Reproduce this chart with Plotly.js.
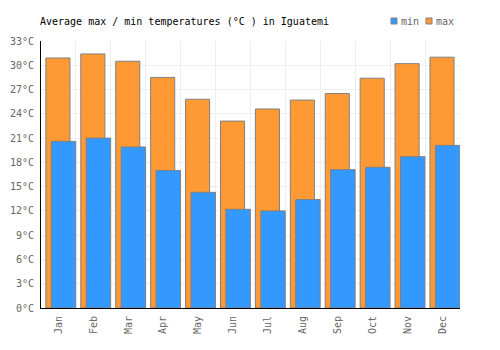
<!DOCTYPE html>
<html>
<head>
<meta charset="utf-8">
<script src="https://cdn.plot.ly/plotly-3.0.1.min.js"></script>
<style>html,body{margin:0;padding:0;background:#fff;}#chart{width:500px;height:350px;}</style>
</head>
<body>
<div id="chart"></div>
<script>
var months = ["Jan","Feb","Mar","Apr","May","Jun","Jul","Aug","Sep","Oct","Nov","Dec"];
var maxTemps = [30.9, 31.4, 30.5, 28.5, 25.8, 23.1, 24.6, 25.7, 26.5, 28.4, 30.2, 31.0];
var minTemps = [20.6, 21.0, 19.9, 17.0, 14.3, 12.2, 12.0, 13.4, 17.1, 17.4, 18.7, 20.1];
var yTicks = [0, 3, 6, 9, 12, 15, 18, 21, 24, 27, 30, 33];
var yTickText = yTicks.map(function(v){ return v + '°C'; });

var idx = months.map(function(_, i){ return i; });
var bounds = [];
for (var i = 0; i <= months.length; i++) bounds.push(i - 0.5);

var font = "DejaVu Sans Mono, monospace";
var fs = 10;
var maxColor = '#ff9933', minColor = '#3399ff', edge = '#808080';

var traceMax = {
  type: 'bar', name: 'max', x: idx, y: maxTemps,
  width: 0.69, offset: -0.36,
  marker: {color: maxColor, line: {color: edge, width: 1}},
  hoverinfo: 'y', showlegend: false
};
var traceMin = {
  type: 'bar', name: 'min', x: idx, y: minTemps,
  width: 0.7, offset: -0.205,
  marker: {color: minColor, line: {color: edge, width: 1}},
  hoverinfo: 'y', showlegend: false
};

var M = {l: 41, r: 40, t: 41, b: 42};
var W = 500 - M.l - M.r, H = 350 - M.t - M.b;
function px(x){ return (x - M.l) / W; }
function py(y){ return (350 - M.b - y) / H; }

var legendItems = [
  {name: 'min', color: minColor, x: 391},
  {name: 'max', color: maxColor, x: 426}
];
var shapes = [], annotations = [];
legendItems.forEach(function(it){
  shapes.push({type: 'rect', xref: 'paper', yref: 'paper',
    xsizemode: 'pixel', ysizemode: 'pixel', xanchor: px(it.x), yanchor: py(21),
    x0: 0, x1: 6, y0: -3, y1: 3,
    fillcolor: it.color, line: {color: edge, width: 1}});
  annotations.push({xref: 'paper', yref: 'paper', x: px(it.x + 8), y: py(21), xanchor: 'left', yanchor: 'middle',
    text: it.name, showarrow: false, font: {family: font, size: fs, color: '#666'}});
});

var layout = {
  width: 500, height: 350,
  margin: M,
  barmode: 'overlay',
  paper_bgcolor: '#fff', plot_bgcolor: '#fff',
  font: {family: font, size: fs, color: '#666'},
  title: {text: 'Average max / min temperatures (°C ) in Iguatemi', x: 40/500, xanchor: 'left', y: 1 - 21/350, yanchor: 'middle', font: {family: font, size: fs, color: '#000'}},
  showlegend: false,
  shapes: shapes,
  annotations: annotations,
  xaxis: {
    range: [-0.5, 11.5], tickvals: idx, ticktext: months, tickangle: -90,
    showgrid: false, zeroline: false, showline: true, linecolor: '#000', linewidth: 1,
    ticks: '', fixedrange: true, automargin: false, ticklabelstandoff: 3,
    minor: {tickvals: bounds, showgrid: true, gridcolor: '#eeeeee', gridwidth: 1, ticks: ''},
    tickfont: {family: font, size: fs, color: '#666'}
  },
  yaxis: {
    range: [0, 33], tickmode: 'array', tickvals: yTicks, ticktext: yTickText,
    showgrid: true, gridcolor: '#eeeeee', gridwidth: 1, zeroline: false,
    showline: true, linecolor: '#000', linewidth: 1, ticks: '', fixedrange: true, automargin: false,
    ticklabelstandoff: 4,
    tickfont: {family: font, size: fs, color: '#666'}
  }
};

Plotly.newPlot('chart', [traceMax, traceMin], layout, {displayModeBar: false, staticPlot: true});
</script>
</body>
</html>
